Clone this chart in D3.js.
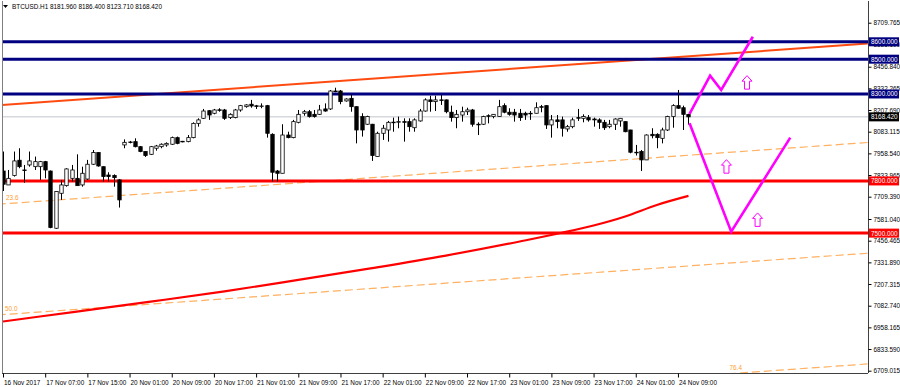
<!DOCTYPE html>
<html>
<head>
<meta charset="utf-8">
<title>BTCUSD H1</title>
<script src="https://d3js.org/d3.v7.min.js"></script>
<style>
  body { margin: 0; background: #fff; }
  svg text { font-family: "Liberation Sans", Arial, sans-serif; }
</style>
</head>
<body>
<div id="container"></div>
<script>
// ---- data ----
var symbol = "BTCUSD.H1";
var lastQuote = [8181.960, 8186.400, 8123.710, 8168.420];

// hourly candles [open, high, low, close]
var candles = [
  [7857,7969,7742,7781],[7777,7863,7777,7815],[7831,7969,7825,7915],[7919,7988,7873,7882],
  [7863,7892,7790,7860],[7892,7969,7882,7915],[7882,7940,7863,7911],[7882,7915,7806,7911],
  [7911,7915,7815,7863],[7857,7860,7528,7532],[7528,7739,7524,7739],[7729,7806,7691,7777],
  [7773,7873,7767,7869],[7815,7892,7796,7863],[7815,7953,7773,7773],[7777,7882,7767,7844],
  [7811,7921,7806,7896],[7896,7978,7892,7963],[7963,7965,7882,7886],[7882,7884,7796,7825],
  [7834,7850,7796,7825],[7831,7838,7767,7819],[7806,7810,7647,7691],[8007,8039,7988,8022],
  [8024,8030,8016,8022],[8026,8045,7993,7997],[7997,8001,7965,7969],[7969,7972,7938,7946],
  [7953,8001,7949,7997],[7988,8007,7974,8001],[7997,8016,7988,8011],[8007,8022,7997,8016],
  [8011,8055,8007,8049],[8049,8055,8011,8016],[8028,8030,8022,8026],[8026,8064,8022,8049],
  [8049,8137,8045,8131],[8131,8160,8112,8151],[8160,8214,8156,8202],[8204,8208,8151,8179],
  [8189,8214,8183,8208],[8209,8218,8198,8207],[8208,8214,8151,8160],[8164,8189,8156,8183],
  [8164,8214,8160,8208],[8208,8237,8198,8233],[8227,8241,8221,8237],[8241,8266,8221,8231],
  [8232,8237,8214,8230],[8230,8246,8218,8231],[8233,8237,8049,8074],[8068,8074,7796,7850],
  [7857,7863,7796,7844],[7844,8126,7844,8064],[8064,8083,8045,8049],[8049,8151,8045,8141],
  [8137,8208,8131,8183],[8189,8208,8175,8198],[8198,8208,8164,8170],[8183,8208,8164,8170],
  [8183,8237,8179,8208],[8214,8246,8198,8202],[8214,8323,8208,8317],[8317,8336,8310,8316],
  [8317,8323,8241,8256],[8260,8275,8256,8271],[8275,8298,8198,8227],[8227,8229,8016,8093],
  [8170,8189,8055,8093],[8126,8175,8122,8170],[8126,8128,7915,7946],[7940,8083,7940,8074],
  [8074,8122,8036,8103],[8093,8145,8026,8137],[8137,8164,8083,8138],[8139,8170,8103,8141],
  [8141,8160,8026,8137],[8141,8160,8083,8112],[8106,8160,8083,8151],[8145,8214,8141,8202],
  [8202,8275,8198,8266],[8266,8290,8198,8256],[8256,8290,8202,8266],[8266,8294,8237,8265],
  [8266,8268,8189,8198],[8195,8233,8141,8164],[8164,8208,8103,8183],[8179,8227,8141,8198],
  [8198,8221,8179,8208],[8208,8214,8112,8126],[8126,8137,8064,8125],[8126,8175,8122,8170],
  [8175,8183,8131,8174],[8170,8184,8160,8183],[8170,8266,8169,8227],[8233,8246,8189,8195],
  [8195,8218,8175,8183],[8195,8214,8141,8179],[8189,8214,8145,8164],[8189,8198,8151,8179],
  [8189,8202,8151,8188],[8189,8252,8188,8221],[8227,8237,8195,8226],[8233,8235,8099,8122],
  [8122,8179,8049,8151],[8151,8179,8103,8141],[8151,8170,8055,8103],[8099,8122,8083,8112],
  [8112,8164,8103,8151],[8164,8214,8145,8163],[8160,8183,8137,8170],[8164,8179,8141,8151],
  [8156,8164,8112,8151],[8151,8160,8099,8137],[8137,8151,8093,8106],[8112,8151,8103,8126],
  [8126,8160,8093,8156],[8145,8160,8112,8160],[8141,8142,8080,8083],[8093,8094,7959,7965],
  [7965,8007,7946,7964],[7969,7978,7857,7921],[7921,8068,7920,8064],[8068,8103,8045,8060],
  [8068,8074,7988,8049],[8045,8106,8016,8093],[8093,8175,8087,8170],[8170,8241,8106,8233],
  [8233,8323,8214,8218],[8221,8233,8093,8183],[8181.96,8186.40,8123.71,8168.42]
];

// moving average (read at some bars)
var maBars   = [0, 14, 28, 42, 56, 70, 84, 98, 106, 112, 118, 124, 130];
var maValues = [6992, 7049, 7106, 7165, 7231, 7299, 7371, 7452, 7502, 7544, 7596, 7662, 7714];

// time axis
var timeTickBars = [0, 8, 16, 24, 32, 40, 48, 56, 64, 72, 80, 88, 96, 104, 112, 120, 128];
var timeLabels = ["16 Nov 2017", "17 Nov 07:00", "17 Nov 15:00", "20 Nov 01:00", "20 Nov 09:00",
  "20 Nov 17:00", "21 Nov 01:00", "21 Nov 09:00", "21 Nov 17:00", "22 Nov 01:00", "22 Nov 09:00",
  "22 Nov 17:00", "23 Nov 01:00", "23 Nov 09:00", "23 Nov 17:00", "24 Nov 01:00", "24 Nov 09:00"];

// price axis
var priceTicks = [8709.765, 8585.190, 8456.840, 8332.265, 8207.690, 8083.115, 7958.540, 7833.965,
  7709.390, 7581.040, 7456.465, 7331.890, 7207.315, 7082.740, 6958.165, 6833.590, 6709.015];

// horizontal levels
var blueLevels = [8600, 8500, 8300];
var redLevels = [7800, 7500];

// fibonacci channel: base line two points [bar, price], channel width
var fibBase = [[0, 8237], [164, 8590]];
var fibWidth = 2411;
var fibLevels = [0.236, 0.5, 0.764];
var fibLabels = ["23.6", "50.0", "76.4"];
var fibLabelBars = [0.2, 0, 137.4];

// projected paths [bar, price]
var pathUp = [[130.2, 8185], [134.1, 8405], [136.2, 8323], [142.2, 8629]];
var pathDown = [[130.2, 8132], [138.1, 7508], [149.3, 8049]];
var arrowMarks = [[141.1, 8365], [137.2, 7882], [143.1, 7576]];

// ---- chart ----
var width = 900, height = 387;
var pL = 2, pR = 868, pT = 1, pB = 373;
var fs = "6.4px";

var svg = d3.select("#container").append("svg")
    .attr("width", width)
    .attr("height", height);

var x = d3.scaleLinear().domain([0, 164]).range([3, 3 + 164 * 5.273]);
var y = d3.scaleLinear().domain([6709.015, 8709.765]).range([370.7, 22.7]);

svg.append("defs").append("clipPath").attr("id", "plot")
    .append("rect").attr("x", pL).attr("y", pT)
    .attr("width", pR - pL).attr("height", pB - pT);

var g = svg.append("g").attr("clip-path", "url(#plot)");

// bid line
g.append("line")
    .attr("x1", pL).attr("x2", pR)
    .attr("y1", y(lastQuote[3])).attr("y2", y(lastQuote[3]))
    .style("stroke", "#c0c6cc").style("stroke-width", 1);

var slope = (fibBase[1][1] - fibBase[0][1]) / (fibBase[1][0] - fibBase[0][0]);

// fib channel dashed lines
fibLevels.forEach(function(lv) {
    g.append("line")
        .attr("x1", x(-1)).attr("y1", y(fibBase[0][1] - slope - lv * fibWidth))
        .attr("x2", x(fibBase[1][0])).attr("y2", y(fibBase[1][1] - lv * fibWidth))
        .style("stroke", "#ffb060").style("stroke-width", 1.2)
        .style("stroke-dasharray", "8,4");
});
fibLevels.forEach(function(lv, i) {
    var b = fibLabelBars[i];
    g.append("text")
        .attr("x", x(b) + 2).attr("y", y(fibBase[0][1] + slope * b - lv * fibWidth) - 4)
        .style("font-size", fs).style("fill", "#ff9c30")
        .text(fibLabels[i]);
});

// moving average
var maLine = d3.line().x(function(d) { return x(d[0]); }).y(function(d) { return y(d[1]); })
    .curve(d3.curveMonotoneX);
g.append("path")
    .datum(maBars.map(function(b, i) { return [b, maValues[i]]; }))
    .attr("d", maLine)
    .style("fill", "none").style("stroke", "#ff0000").style("stroke-width", 2.2);

// fib base / trend line
g.append("line")
    .attr("x1", x(-1)).attr("y1", y(fibBase[0][1] - slope))
    .attr("x2", x(fibBase[1][0])).attr("y2", y(fibBase[1][1]))
    .style("stroke", "#ff4a10").style("stroke-width", 2);

// horizontal levels
g.selectAll(".blue").data(blueLevels).enter().append("line")
    .attr("x1", pL).attr("x2", pR)
    .attr("y1", function(d) { return y(d); }).attr("y2", function(d) { return y(d); })
    .style("stroke", "#000080").style("stroke-width", 3);
g.selectAll(".red").data(redLevels).enter().append("line")
    .attr("x1", pL).attr("x2", pR)
    .attr("y1", function(d) { return y(d); }).attr("y2", function(d) { return y(d); })
    .style("stroke", "#ff0000").style("stroke-width", 3);

// candles
var bw = 3.4;
var cg = g.selectAll(".candle").data(candles).enter().append("g");
cg.append("line")
    .attr("x1", function(d, i) { return Math.round(x(i)) + 0.5; })
    .attr("x2", function(d, i) { return Math.round(x(i)) + 0.5; })
    .attr("y1", function(d) { return y(d[1]); })
    .attr("y2", function(d) { return y(d[2]); })
    .style("stroke", "#000").style("stroke-width", 1);
cg.append("rect")
    .attr("x", function(d, i) { return Math.round(x(i)) + 0.5 - bw / 2; })
    .attr("y", function(d) { return y(Math.max(d[0], d[3])); })
    .attr("width", bw)
    .attr("height", function(d) { return Math.max(0.6, Math.abs(y(d[0]) - y(d[3]))); })
    .style("fill", function(d) { return d[3] >= d[0] ? "#fff" : "#000"; })
    .style("stroke", "#000").style("stroke-width", 0.8);

// projected paths
var pl = d3.line().x(function(d) { return x(d[0]); }).y(function(d) { return y(d[1]); });
[pathUp, pathDown].forEach(function(p) {
    g.append("path").datum(p).attr("d", pl)
        .style("fill", "none").style("stroke", "#ff00ff").style("stroke-width", 2.6)
        .style("stroke-linejoin", "miter");
});
g.selectAll(".arrow").data(arrowMarks).enter().append("path")
    .attr("transform", function(d) { return "translate(" + x(d[0]) + "," + y(d[1]) + ")"; })
    .attr("d", "M0,-7 L5,-1.5 L2.5,-1.5 L2.5,6.5 L-2.5,6.5 L-2.5,-1.5 L-5,-1.5 Z")
    .style("fill", "#fff").style("stroke", "#ff00ff").style("stroke-width", 1);

// frame
svg.append("line").attr("x1", pL + 0.5).attr("x2", pL + 0.5).attr("y1", pT).attr("y2", pB)
    .style("stroke", "#808080");
svg.append("line").attr("x1", pL).attr("x2", pR).attr("y1", pB + 0.5).attr("y2", pB + 0.5)
    .style("stroke", "#404040");

// right axis
var yAxis = svg.append("g").attr("transform", "translate(" + (pR + 0.5) + ",0)")
    .call(d3.axisRight(y).tickValues(priceTicks).tickSize(3).tickPadding(2)
        .tickFormat(function(d) { return d.toFixed(3); }));
yAxis.select(".domain").attr("d", "M0," + pT + "V" + pB).style("stroke", "#404040");
yAxis.selectAll("text").style("font-size", fs).style("fill", "#000");

// bottom axis
var xAxis = svg.append("g").attr("transform", "translate(0," + (pB + 0.5) + ")")
    .call(d3.axisBottom(x).tickValues(timeTickBars).tickSize(4).tickPadding(3)
        .tickFormat(function(d, i) { return timeLabels[i]; }));
xAxis.select(".domain").remove();
xAxis.selectAll("text").attr("text-anchor", "start").attr("dx", "0.5")
    .style("font-size", fs).style("fill", "#000");

// level labels on axis
function priceBox(v, fill) {
    svg.append("rect").attr("x", pR + 1).attr("y", y(v) - 4.5)
        .attr("width", 30).attr("height", 9).style("fill", fill);
    svg.append("text").attr("x", pR + 3).attr("y", y(v) + 2.4)
        .style("font-size", fs).style("fill", "#fff")
        .text(v.toFixed(3));
}
blueLevels.forEach(function(v) { priceBox(v, "#000080"); });
redLevels.forEach(function(v) { priceBox(v, "#ff0000"); });
priceBox(lastQuote[3], "#000");

// title
svg.append("path").attr("d", "M3,5 L8,5 L5.5,8 Z").style("fill", "#000");
svg.append("text").attr("x", 12).attr("y", 9)
    .style("font-size", fs).style("fill", "#000")
    .text(symbol + "  " + lastQuote.map(function(v) { return v.toFixed(3); }).join(" "));
</script>
</body>
</html>
